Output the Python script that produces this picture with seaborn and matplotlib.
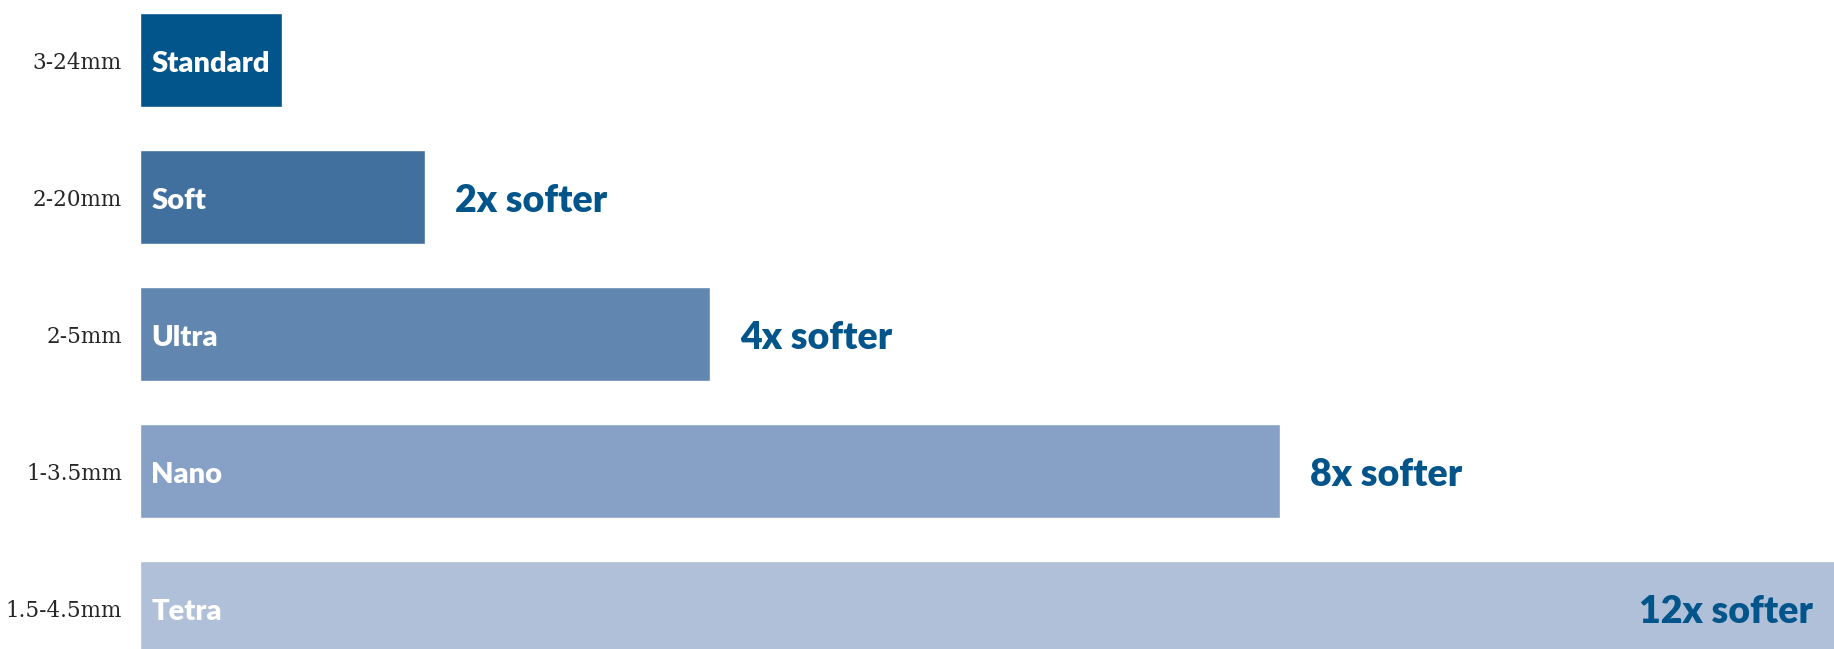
import matplotlib
matplotlib.use("Agg")
import matplotlib.pyplot as plt
import seaborn as sns

sizes = ["3-24mm", "2-20mm", "2-5mm", "1-3.5mm", "1.5-4.5mm"]
names = ["Standard", "Soft", "Ultra", "Nano", "Tetra"]
softness = [1, 2, 4, 8, 12]
notes = ["", "2x softer", "4x softer", "8x softer", "12x softer"]
colors = ["#02558B", "#41709F", "#6186B0", "#87A0C5", "#B0C0D8"]

sns.set_style("white")
fig = plt.figure(figsize=(18.34, 6.49), dpi=100)
ax = fig.add_axes([140 / 1834, 0, 1 - 140 / 1834, 1])

sns.barplot(x=softness, y=sizes, hue=sizes, palette=colors, legend=False,
            orient="h", width=0.686, saturation=1, ax=ax)

ax.set_xlim(0, 11.89)
ax.set_ylim(4.299, -0.438)
sns.despine(ax=ax, left=True, bottom=True)
ax.set_xticks([])
ax.set_xlabel("")
ax.set_ylabel("")
ax.tick_params(axis="y", length=0, pad=13)
for lab in ax.get_yticklabels():
    lab.set_fontfamily("DejaVu Serif")
    lab.set_fontsize(15.5)

# labels sit a touch below the bar centre in the original
dy = 0.03
for i, (name, val, note) in enumerate(zip(names, softness, notes)):
    ax.text(0.08, i + dy, name, color="white", fontsize=21, fontweight="heavy",
            family="Lato", va="center", ha="left")
    if not note:
        continue
    if val >= 12:
        ax.text(11.74, i + dy, note, color="#02558B", fontsize=27, fontweight="heavy",
                family="Lato", va="center", ha="right")
    else:
        ax.text(val + 0.21, i + dy, note, color="#02558B", fontsize=27, fontweight="heavy",
                family="Lato", va="center", ha="left")

fig.savefig("out.png", dpi=100)
